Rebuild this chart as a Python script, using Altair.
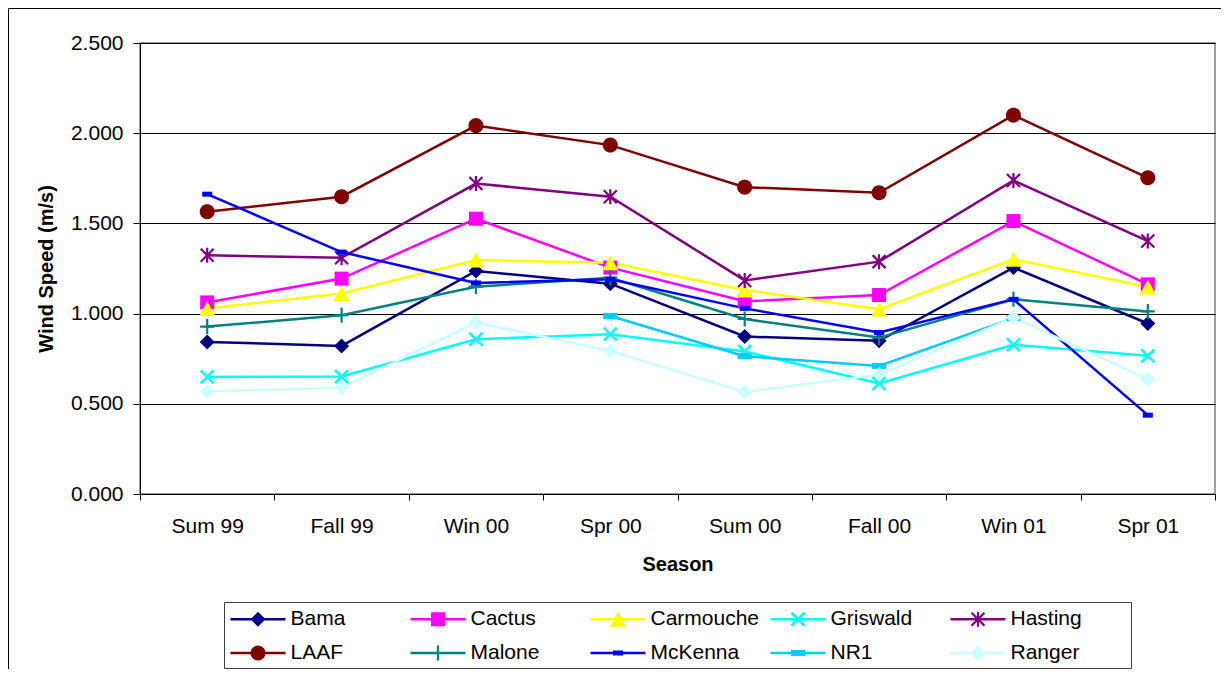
import math
import altair as alt
import pandas as pd

# ---------------- data ----------------
seasons = ["Sum 99", "Fall 99", "Win 00", "Spr 00", "Sum 00", "Fall 00", "Win  01", "Spr 01"]
stations = ["Bama", "Cactus", "Carmouche", "Griswald", "Hasting",
            "LAAF", "Malone", "McKenna", "NR1", "Ranger"]

bama      = [0.843, 0.821, 1.236, 1.166, 0.873, 0.849, 1.255, 0.945]
cactus    = [1.062, 1.194, 1.526, 1.255, 1.068, 1.103, 1.513, 1.162]
carmouche = [1.028, 1.111, 1.297, 1.282, 1.131, 1.024, 1.301, 1.148]
griswald  = [0.649, 0.651, 0.858, 0.886, 0.790, 0.613, 0.827, 0.766]
hasting   = [1.323, 1.310, 1.721, 1.648, 1.184, 1.288, 1.738, 1.402]
laaf      = [1.565, 1.648, 2.042, 1.934, 1.701, 1.670, 2.100, 1.753]
malone    = [0.928, 0.991, 1.149, 1.199, 0.970, 0.867, 1.079, 1.012]
mckenna   = [1.662, 1.341, 1.170, 1.190, 1.029, 0.895, 1.079, 0.437]
nr1       = [None, None, None, 0.987, 0.764, 0.710, 0.975, None]
ranger    = [0.568, 0.590, 0.950, 0.793, 0.566, 0.662, 0.978, 0.636]

series_values = [bama, cactus, carmouche, griswald, hasting,
                 laaf, malone, mckenna, nr1, ranger]

# ---------------- styles ----------------
colors = ["#000080", "#FF00FF", "#FFFF00", "#00FFFF", "#800080",
          "#800000", "#008080", "#0000FF", "#00CCFF", "#CCFFFF"]
FONT = "Liberation Sans"


def orient(poly):
    a = 0.0
    for i in range(len(poly)):
        x1, y1 = poly[i]
        x2, y2 = poly[(i + 1) % len(poly)]
        a += x1 * y2 - x2 * y1
    return poly if a >= 0 else poly[::-1]


def rect(hw, hh):
    return orient([(-hw, -hh), (hw, -hh), (hw, hh), (-hw, hh)])


def diamond(r):
    return orient([(0, -r), (r, 0), (0, r), (-r, 0)])


def triangle(hw, hh):
    return orient([(0, -hh), (hw, hh), (-hw, hh)])


def circle(r, n=28):
    return orient([(r * math.cos(2 * math.pi * k / n), r * math.sin(2 * math.pi * k / n)) for k in range(n)])


def bar(x1, y1, x2, y2, h):
    L = math.hypot(x2 - x1, y2 - y1)
    px, py = -(y2 - y1) / L * h, (x2 - x1) / L * h
    return orient([(x1 + px, y1 + py), (x2 + px, y2 + py), (x2 - px, y2 - py), (x1 - px, y1 - py)])


def xmark(r, h):
    return [bar(-r, -r, r, r, h), bar(r, -r, -r, r, h)]


marker_polys = [
    [diamond(7.5)],                                  # Bama
    [rect(7, 7)],                                    # Cactus
    [triangle(8, 7.5)],                              # Carmouche
    xmark(6.5, 1.3),                                 # Griswald
    xmark(6.5, 1.1) + [bar(0, -7.5, 0, 7.5, 1.1)],   # Hasting
    [circle(7.5)],                                   # LAAF
    [bar(-7, 0, 7, 0, 1.1), bar(0, -7.5, 0, 7.5, 1.1)],  # Malone
    [rect(5, 2.5)],                                  # McKenna
    [rect(7, 3)],                                    # NR1
    [diamond(7.5)],                                  # Ranger
]


def to_path(polys, R, dx=0.0):
    parts = []
    for p in polys:
        pts = " L".join(f"{(x + dx) / R:.4f},{y / R:.4f}" for x, y in p)
        parts.append("M" + pts + " Z")
    return " ".join(parts)


PLOT_R = 10.0
plot_paths = [to_path(p, PLOT_R) for p in marker_polys]

# legend symbol: 55px line with marker in its middle
LEG_SYM = 21.0            # symbol box used by the legend layout (px)
LEG_LINE = 27.5           # half length of the legend line (px)
LEG_SHIFT = LEG_LINE - LEG_SYM / 2
legend_paths = [to_path([rect(LEG_LINE, 1.2)] + p, LEG_SYM / 2, LEG_SHIFT) for p in marker_polys]

# legend placement / box (relative to the plot area)
LEG_X, LEG_Y, LEG_W, LEG_H = 84, 559, 907, 66

# ---------------- table ----------------
rows = []
for st, vals in zip(stations, series_values):
    for i, (s, v) in enumerate(zip(seasons, vals)):
        if v is not None:
            rows.append({"Season": s, "Station": st, "Value": v, "idx": i})
df = pd.DataFrame(rows)

color_scale = alt.Scale(domain=stations, range=colors)

x_enc = alt.X(
    "Season:N", sort=seasons,
    scale=alt.Scale(type="band", paddingInner=0, paddingOuter=0),
    axis=alt.Axis(
        title="Season", labelAngle=0, tickBand="extent", grid=False,
        tickSize=6, labelPadding=15, labelFontSize=21, labelFont=FONT,
        labelColor="black", tickColor="black", domainColor="black",
        titleFont=FONT, titleFontSize=20, titleFontWeight="bold", titleColor="black",
        titleBaseline="alphabetic", titleY=76, labelOverlap=False,
    ),
)
y_enc = alt.Y(
    "Value:Q", scale=alt.Scale(domain=[0, 2.5], nice=False),
    axis=alt.Axis(
        title="Wind Speed (m/s)", values=[0, 0.5, 1, 1.5, 2, 2.5], format=".3f",
        grid=True, gridColor="black", gridWidth=1, tickSize=7, labelPadding=10,
        labelFontSize=21, labelFont=FONT, labelColor="black",
        tickColor="black", domainColor="black",
        titleFont=FONT, titleFontSize=20, titleFontWeight="bold", titleColor="black",
        titleBaseline="alphabetic", titleX=-88, titleY=225.5, titleAngle=270,
        titleAlign="center",
    ),
)

base = alt.Chart(df)

leg = alt.Legend(
    title=None, orient="none", legendX=LEG_X, legendY=LEG_Y, direction="horizontal",
    columns=5, gridAlign="all", columnPadding=11, rowPadding=12, padding=6.5,
    labelFont=FONT, labelFontSize=21, labelColor="black",
    labelOffset=2 * LEG_LINE + 5 - LEG_SYM,
    symbolStrokeWidth=0, symbolOpacity=1, symbolSize=LEG_SYM ** 2,
)
# legend-only layer (no rows drawn): carries the combined colour/shape legend
legend_layer = base.transform_filter("false").mark_point(
    filled=True, opacity=1, size=LEG_SYM ** 2, strokeWidth=0
).encode(
    color=alt.Color("Station:N", scale=color_scale, legend=leg),
    shape=alt.Shape("Station:N", scale=alt.Scale(domain=stations, range=legend_paths), legend=leg),
)

lines = base.mark_line(strokeWidth=2.5).encode(
    x=x_enc, y=y_enc,
    color=alt.Color("Station:N", scale=color_scale, legend=None),
    order=alt.Order("idx:Q"),
)

point_layers = []
for st, path in zip(stations, plot_paths):
    point_layers.append(
        base.transform_filter(alt.datum.Station == st)
        .mark_point(filled=True, opacity=1, shape=path, size=(2 * PLOT_R) ** 2, strokeWidth=0)
        .encode(x=x_enc, y=y_enc,
                color=alt.Color("Station:N", scale=color_scale, legend=None))
    )

one = pd.DataFrame({"f": [0]})
frame = alt.Chart(one).mark_rect(
    fillOpacity=0, stroke="black", strokeWidth=1, clip=False
).encode(
    x=alt.value(-131.5), x2=alt.value(1400), y=alt.value(-34.5), y2=alt.value(900)
)
legend_box = alt.Chart(one).mark_rect(
    fill="white", stroke="#404040", strokeWidth=1, clip=False
).encode(
    x=alt.value(LEG_X + 0.5), x2=alt.value(LEG_X + LEG_W + 0.5),
    y=alt.value(LEG_Y + 0.5), y2=alt.value(LEG_Y + LEG_H + 0.5)
)

chart = alt.layer(legend_layer, frame, legend_box, lines, *point_layers).properties(
    width=1075, height=451,
    autosize=alt.AutoSizeParams(type="none"),
    padding={"left": 132, "top": 35, "right": 6, "bottom": 175},
    background="white",
).configure_view(stroke="#808080", strokeWidth=1.5)

chart.save("out.html", embed_options={"renderer": "svg", "actions": False})
